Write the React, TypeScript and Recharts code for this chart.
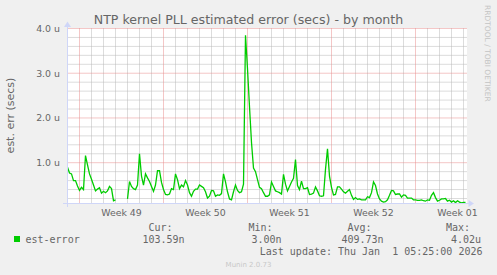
import React from 'react';
import { LineChart, Line, XAxis, YAxis, ReferenceLine } from 'recharts';

// ---- data -------------------------------------------------------------
const STEP_HOURS = 4; // one sample every 4 hours
// est-error in microseconds (u)
const estErrorMicro: (number | null)[] = [
  0.90, 0.77, 0.75, 0.60, 0.60, 0.48, 0.38, 0.45, 0.40, 1.16,
  0.95, 0.75, 0.63, 0.50, 0.37, 0.41, 0.44, 0.32, 0.36, 0.33,
  0.37, 0.47, 0.42, 0.15, 0.17, null, null, null, null, null,
  0.19, 0.58, 0.47, 0.42, 0.40, 0.50, 1.20, 0.70, 0.50, 0.75,
  0.66, 0.58, 0.47, 0.36, 0.50, 0.82, 0.82, 0.56, 0.40, 0.29,
  0.28, 0.30, 0.42, 0.40, 0.75, 0.62, 0.42, 0.50, 0.46, 0.60,
  0.50, 0.33, 0.25, 0.36, 0.41, 0.41, 0.50, 0.47, 0.44, 0.35,
  0.21, 0.25, 0.38, 0.37, 0.25, 0.28, 0.27, 0.31, 0.75, 0.57,
  0.35, 0.19, 0.17, 0.35, 0.50, 0.38, 0.33, 0.35, 0.52, 3.85,
  3.10, 2.25, 1.45, 0.88, 0.80, 0.62, 0.45, 0.42, 0.33, 0.25,
  0.25, 0.28, 0.57, 0.47, 0.37, 0.35, 0.33, 0.30, 0.74, 0.52,
  0.37, 0.47, 0.57, 0.65, 1.07, 0.49, 0.40, 0.59, 0.42, 0.42,
  0.44, 0.29, 0.30, 0.32, 0.46, 0.37, 0.26, 0.25, 0.26, 0.85,
  1.31, 0.70, 0.45, 0.28, 0.29, 0.46, 0.46, 0.41, 0.35, 0.32,
  0.36, 0.40, 0.27, 0.18, 0.22, 0.18, 0.19, 0.17, 0.17, 0.17,
  0.24, 0.22, 0.33, 0.57, 0.49, 0.30, 0.19, 0.14, 0.12, 0.13,
  0.17, 0.27, 0.38, 0.37, 0.29, 0.30, 0.30, 0.23, 0.28, 0.27,
  0.21, 0.21, 0.21, 0.17, 0.17, 0.16, 0.16, 0.17, 0.15, 0.14,
  0.17, 0.16, 0.27, 0.33, 0.22, 0.14, 0.16, 0.19, 0.19, 0.20,
  0.14, 0.16, 0.12, 0.15, 0.11, 0.15, 0.12, 0.10, 0.11, 0.11,
];

const weekLabels = ['Week 49', 'Week 50', 'Week 51', 'Week 52', 'Week 01'];
const weekLabelHours = [108, 276, 444, 612, 780];
const weekStartHours = [24, 192, 360, 528, 696];
const yTickValues = [1, 2, 3, 4];

const statLabels = ['Cur:', 'Min:', 'Avg:', 'Max:'];
const statValues = ['103.59n', '3.00n', '409.73n', '4.02u'];
const seriesName = 'est-error';
const title = 'NTP kernel PLL estimated error (secs) - by month';
const yAxisTitle = 'est. err (secs)';
const lastUpdate = 'Last update: Thu Jan  1 05:25:00 2026';
const watermark = 'Munin 2.0.73';
const sideText = 'RRDTOOL / TOBI OETIKER';

// ---- layout ----------------------------------------------------------
const W = 497;
const H = 275;
const PL = 67.5;
const PT = 28.5;
const PW = 400;
const PH = 175;
const X_MAX = 800;
const Y_MIN = 0.088;
const Y_MAX = 4;

const SANS = "'DejaVu Sans', sans-serif";
const MONO = "'DejaVu Sans Mono', monospace";
const FONT_COLOR = '#666666';
const AXIS_COLOR = '#CFD6F8';
const GRID_COLOR = '#b8b8b8';
const MGRID_COLOR = '#e88e8e';

const minorY: number[] = [];
for (let k = 1; k < 20; k++) {
  if (k % 5 !== 0) minorY.push(Math.round(k * 0.2 * 10) / 10);
}
const minorX: number[] = [];
for (let h = 24; h < X_MAX; h += 24) {
  if (!weekStartHours.includes(h)) minorX.push(h);
}

const statLabelX = [148.5, 248.5, 347.5, 446];
const statValueX = [142.5, 251.5, 341.5, 451];

export default function App() {
  const data = estErrorMicro.map((v, i) => ({ t: i * STEP_HOURS, v }));
  return (
    <div
      style={{
        position: 'absolute',
        left: 0,
        top: 0,
        width: W,
        height: H,
        background: '#f0f0f0',
        overflow: 'hidden',
      }}
    >
      <svg style={{ position: 'absolute', left: 0, top: 0 }} width={W} height={H}>
        <rect x={PL - 0.5} y={PT - 0.5} width={PW} height={PH} fill="#ffffff" />
      </svg>
      <div style={{ position: 'absolute', left: 0, top: 0 }}>
        <LineChart
          width={W}
          height={H}
          data={data}
          margin={{ top: PT, right: W - PL - PW, bottom: H - PT - PH - 20, left: PL - 50 }}
        >
          <XAxis
            dataKey="t"
            type="number"
            domain={[0, X_MAX]}
            ticks={weekLabelHours}
            interval={0}
            tickFormatter={(v: number) => weekLabels[weekLabelHours.indexOf(v)]}
            axisLine={false}
            tickLine={false}
            tickSize={0}
            tickMargin={6}
            height={20}
            allowDataOverflow
            tick={{ fontSize: 9.4, fill: FONT_COLOR, fontFamily: SANS }}
          />
          <YAxis
            type="number"
            domain={[Y_MIN, Y_MAX]}
            ticks={yTickValues}
            interval={0}
            tickFormatter={(v: number) => `${v.toFixed(1)} u`}
            width={50}
            axisLine={false}
            tickLine={false}
            tickSize={0}
            tickMargin={7.5}
            allowDataOverflow
            tick={{ fontSize: 9.4, fill: FONT_COLOR, fontFamily: SANS }}
          />
          {minorY.map((v) => (
            <ReferenceLine key={'my' + v} y={v} stroke={GRID_COLOR} strokeDasharray="1 1" />
          ))}
          {minorX.map((v) => (
            <ReferenceLine key={'mx' + v} x={v} stroke={GRID_COLOR} strokeDasharray="1 1" />
          ))}
          {yTickValues.map((v) => (
            <ReferenceLine key={'My' + v} y={v} stroke={MGRID_COLOR} strokeDasharray="1 1" />
          ))}
          {weekStartHours.map((v) => (
            <ReferenceLine key={'Mx' + v} x={v} stroke={MGRID_COLOR} strokeDasharray="1 1" />
          ))}
          <Line
            dataKey="v"
            type="linear"
            stroke="#00cc00"
            strokeWidth={1.3}
            dot={false}
            activeDot={false}
            connectNulls={false}
            isAnimationActive={false}
          />
        </LineChart>
      </div>
      <svg style={{ position: 'absolute', left: 0, top: 0 }} width={W} height={H}>
        {/* axes */}
        <line x1={63} y1={203.5} x2={470} y2={203.5} stroke={AXIS_COLOR} strokeWidth={1} />
        <line x1={67.5} y1={207} x2={67.5} y2={25} stroke={AXIS_COLOR} strokeWidth={1} />
        <polygon points="468.5,200 468.5,207 474,203.5" fill={AXIS_COLOR} />
        <polygon points="64,27 71,27 67.5,21.5" fill={AXIS_COLOR} />
        {/* title */}
        <text x={248.5} y={24.3} textAnchor="middle" fontFamily={SANS} fontSize={12.6} fill={FONT_COLOR}>
          {title}
        </text>
        {/* y axis title */}
        <text
          x={0}
          y={0}
          transform="translate(13.5,115.5) rotate(-90)"
          textAnchor="middle"
          fontFamily={SANS}
          fontSize={11}
          fill={FONT_COLOR}
        >
          {yAxisTitle}
        </text>
        {/* side text */}
        <text
          x={0}
          y={0}
          transform="translate(484.5,5) rotate(90)"
          textAnchor="start"
          fontFamily={SANS}
          fontSize={7.5}
          fill="#c4c4c4"
        >
          {sideText}
        </text>
        {/* legend */}
        {statLabels.map((s, i) => (
          <text key={s} x={statLabelX[i]} y={231} fontFamily={MONO} fontSize={10} fill={FONT_COLOR}>
            {s}
          </text>
        ))}
        <rect x={14} y={236} width={6} height={6} fill="#00cc00" />
        <text x={25.5} y={243} fontFamily={MONO} fontSize={10} fill={FONT_COLOR}>
          {seriesName}
        </text>
        {statValues.map((s, i) => (
          <text key={s} x={statValueX[i]} y={243} fontFamily={MONO} fontSize={10} fill={FONT_COLOR}>
            {s}
          </text>
        ))}
        <text
          x={482.5}
          y={254.8}
          textAnchor="end"
          fontFamily={MONO}
          fontSize={10}
          fill={FONT_COLOR}
          style={{ whiteSpace: 'pre' }}
        >
          {lastUpdate}
        </text>
        <text x={248.5} y={267} textAnchor="middle" fontFamily={SANS} fontSize={7} fill="#c8c8c8">
          {watermark}
        </text>
      </svg>
    </div>
  );
}
